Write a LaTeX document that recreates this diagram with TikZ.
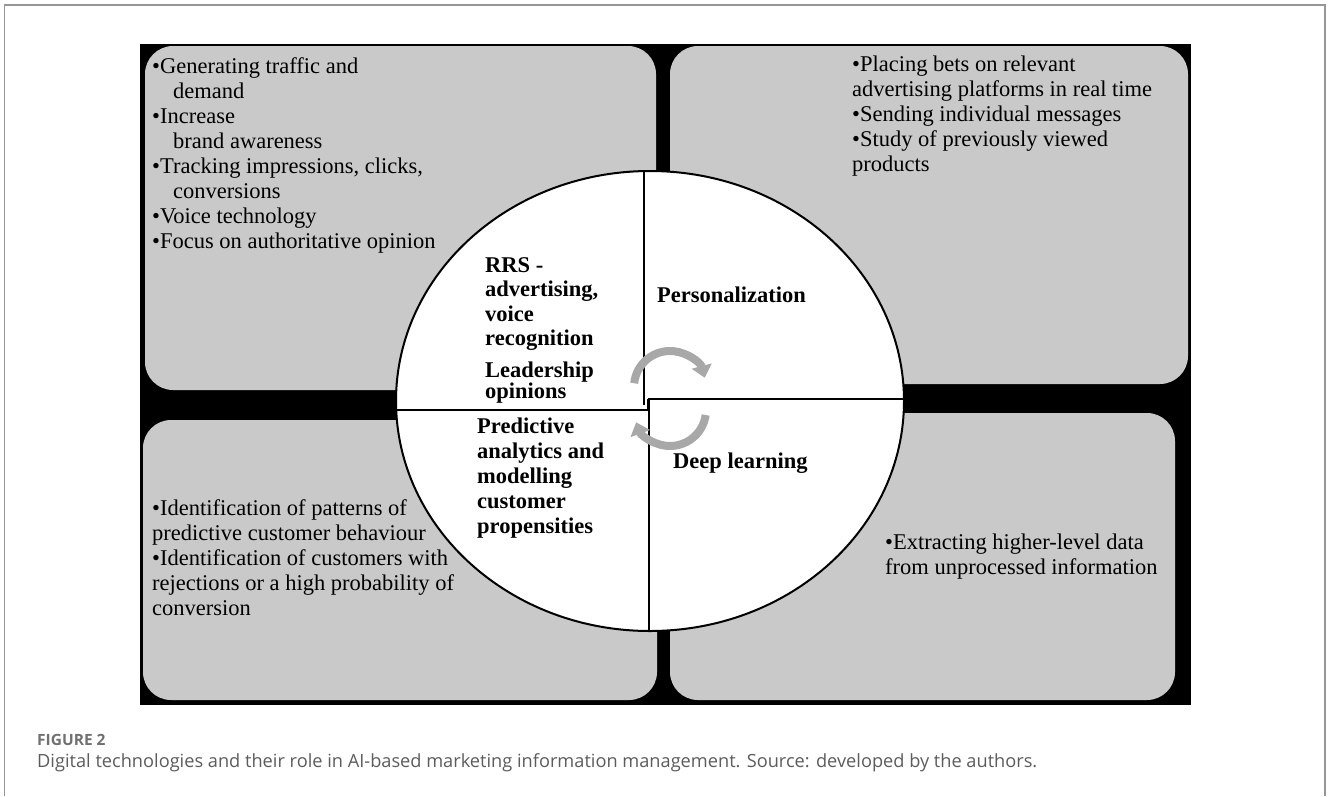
\documentclass[tikz,border=0pt]{standalone}
\usepackage{fontspec}
\setmainfont{Liberation Serif}
\newfontfamily\capfont{Open Sans}
\usetikzlibrary{arrows.meta}
\definecolor{panelgray}{RGB}{201,201,201}
\definecolor{turngray}{RGB}{168,168,168}
\definecolor{framegray}{RGB}{150,150,150}
\definecolor{figgray}{RGB}{112,112,112}
\definecolor{capgray}{RGB}{92,92,92}

\tikzset{
  panel/.style={fill=panelgray,rounded corners=28pt},
  points/.style={font=\fontsize{22.5}{25}\selectfont,align=left,inner sep=0pt,anchor=north west},
  sector/.style={font=\fontsize{22.5}{24.5}\selectfont\bfseries,align=left,inner sep=0pt,anchor=north west},
  turnarrow/.style={draw=turngray,line width=8pt,-{Triangle[width=20pt,length=12pt]}}
}

\begin{document}
\begin{tikzpicture}[x=1pt,y=-1pt]
\useasboundingbox (0,0) rectangle (1328,796);
% page frame, open at the bottom
\draw[framegray,line width=1.5pt] (4.5,796) -- (4.5,5) -- (1325,5) -- (1325,796);
% black backing with the four grey panels
\fill (140,44) rectangle (1191,705);
\fill[panel] (145,46) rectangle (656,390);
\fill[panel] (670,46) rectangle (1188,384);
\fill[panel] (143,420) rectangle (657,700);
\fill[panel] (670,413) rectangle (1175,700);
% wheel split in quarters
\filldraw[fill=white,line width=2pt] (650,401) ellipse[x radius=254,y radius=230];
\draw[line width=1.6pt] (644,171) -- (644,405);
\draw[line width=1.6pt] (648,399) -- (904,399);
\draw[line width=1.6pt] (396,410) -- (648,410) -- (648,399);
\draw[line width=1.6pt] (649,399) -- (649,631);
% turning arrows in the middle
\draw[turnarrow] (670,387) ++(186:36) arc[start angle=186,end angle=345,radius=36];
\draw[turnarrow] (670,410) ++(8:36) arc[start angle=8,end angle=160,radius=36];
% panel texts
\node[points] (tl) at (152,57) {•Generating traffic and\\\hspace*{21pt}demand\\•Increase\\\hspace*{21pt}brand awareness\\•Tracking impressions, clicks,\\\hspace*{21pt}conversions\\•Voice technology\\•Focus on authoritative opinion};
\node[points] (tr) at (852,56) {•Placing bets on relevant\\advertising platforms in real time\\•Sending individual messages\\•Study of previously viewed\\products};
\node[points] (bl) at (152,499) {•Identification of patterns of\\predictive customer behaviour\\•Identification of customers with\\rejections or a high probability of\\conversion};
\node[points] (br) at (885,534) {•Extracting higher-level data\\from unprocessed information};
% quarter titles
\node[sector] (rrs) at (485,257) {RRS -\\advertising,\\voice\\recognition};
\node[sector,font=\fontsize{22.5}{21}\selectfont\bfseries] (lead) at (485,362) {Leadership\\opinions};
\node[sector] (pers) at (657,287) {Personalization};
\node[sector,font=\fontsize{22.5}{25}\selectfont\bfseries] (pred) at (477,418) {Predictive\\analytics and\\modelling\\customer\\propensities};
\node[sector] (deep) at (673,453) {Deep learning};
% caption
\node[anchor=north west,inner sep=0pt,text=figgray,font=\capfont\bfseries\fontsize{15.5}{18}\selectfont] (fig) at (37,734) {FIGURE 2};
\node[anchor=north west,inner sep=0pt,text=capgray,font=\capfont\fontsize{18.2}{22}\selectfont] (cap) at (37,753) {Digital technologies and their role in AI-based marketing information management. Source: developed by the authors.};
\end{tikzpicture}
\end{document}
